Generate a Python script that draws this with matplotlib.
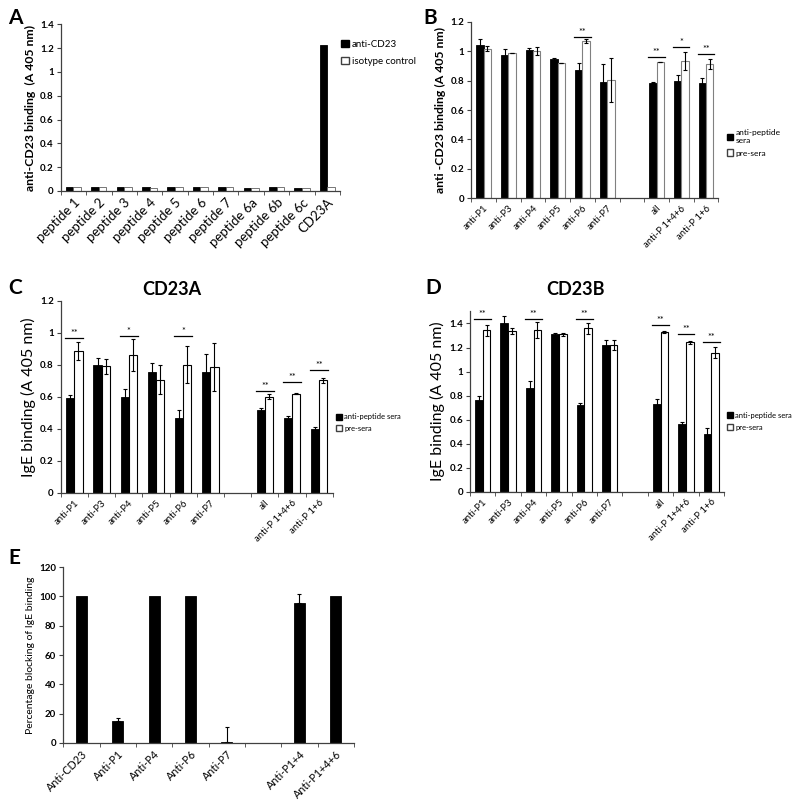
import numpy as np
import matplotlib.pyplot as plt
from matplotlib.patches import Patch

plt.rcParams['font.family'] = ['Lato', 'DejaVu Sans']

# panel A data
a_labels = ['peptide 1', 'peptide 2', 'peptide 3', 'peptide 4', 'peptide 5', 'peptide 6',
            'peptide 7', 'peptide 6a', 'peptide 6b', 'peptide 6c', 'CD23A']
a_anti = [0.03, 0.03, 0.03, 0.033, 0.03, 0.03, 0.035, 0.028, 0.03, 0.028, 1.23]
a_iso = [0.03, 0.03, 0.03, 0.028, 0.03, 0.03, 0.03, 0.028, 0.03, 0.028, 0.03]

# shared category labels for B, C, D (None = empty slot)
bcd_labels = ['anti-P1', 'anti-P3', 'anti-P4', 'anti-P5', 'anti-P6', 'anti-P7', None,
              'all', 'anti-P 1+4+6', 'anti-P 1+6']

# panel B data
b_pep = [1.045, 0.973, 1.007, 0.948, 0.873, 0.79, None, 0.786, 0.798, 0.786]
b_pep_err = [0.04, 0.04, 0.015, 0.005, 0.045, 0.12, None, 0.005, 0.04, 0.035]
b_pre = [1.018, 0.989, 1.002, 0.92, 1.07, 0.807, None, 0.927, 0.935, 0.911]
b_pre_err = [0.015, 0.0, 0.03, 0.0, 0.015, 0.15, None, 0.0, 0.06, 0.035]
b_sig = {4: ('**', 1.10), 7: ('**', 0.96), 8: ('*', 1.03), 9: ('**', 0.984)}

# panel C data
c_pep = [0.59, 0.80, 0.596, 0.758, 0.47, 0.758, None, 0.517, 0.467, 0.398]
c_pep_err = [0.02, 0.045, 0.055, 0.055, 0.045, 0.11, None, 0.01, 0.01, 0.01]
c_pre = [0.888, 0.79, 0.863, 0.708, 0.80, 0.787, None, 0.60, 0.62, 0.704]
c_pre_err = [0.055, 0.045, 0.1, 0.09, 0.115, 0.15, None, 0.015, 0.005, 0.015]
c_sig = {0: ('**', 0.965), 2: ('*', 0.98), 4: ('*', 0.98), 7: ('**', 0.637),
         8: ('**', 0.69), 9: ('**', 0.77)}

# panel D data
d_pep = [0.762, 1.403, 0.861, 1.31, 0.726, 1.221, None, 0.734, 0.561, 0.484]
d_pep_err = [0.036, 0.06, 0.065, 0.015, 0.015, 0.045, None, 0.035, 0.02, 0.045]
d_pre = [1.345, 1.34, 1.345, 1.31, 1.361, 1.221, None, 1.328, 1.243, 1.158]
d_pre_err = [0.045, 0.025, 0.065, 0.015, 0.045, 0.04, None, 0.01, 0.01, 0.045]
d_sig = {0: ('**', 1.44), 2: ('**', 1.44), 4: ('**', 1.44), 7: ('**', 1.39),
         8: ('**', 1.31), 9: ('**', 1.25)}

# panel E data
e_labels = ['Anti-CD23', 'Anti-P1', 'Anti-P4', 'Anti-P6', 'Anti-P7', None,
            'Anti-P1+4', 'Anti-P1+4+6']
e_vals = [100, 15, 100, 100, 0.5, None, 95.5, 100]
e_err = [0, 2.3, 0, 0, 10.5, None, 6, 0]


def excel_axes(ax, n, labels, fs, ymax, yticks, ylabel, ylab_fs, ylab_bold):
    ax.set_xlim(-0.5, n - 0.5)
    ax.set_ylim(0, ymax)
    ax.spines['top'].set_visible(False)
    ax.spines['right'].set_visible(False)
    for s in ('left', 'bottom'):
        ax.spines[s].set_color('#404040')
        ax.spines[s].set_linewidth(0.9)
    ax.set_xticks(np.arange(n))
    ax.set_xticklabels(['' if l is None else l for l in labels], rotation=45,
                       ha='right', rotation_mode='anchor', fontsize=fs)
    # excel style: tick marks between categories
    ax.set_xticks(np.arange(n + 1) - 0.5, minor=True)
    ax.tick_params(axis='x', which='major', length=0, pad=4)
    ax.tick_params(axis='x', which='minor', length=3, direction='out', color='#404040')
    ax.set_yticks(yticks)
    ax.set_yticklabels([('%g' % t) for t in yticks], fontsize=7, fontweight='bold')
    ax.tick_params(axis='y', length=3, direction='out', color='#404040', pad=2)
    ax.set_ylabel(ylabel, fontsize=ylab_fs, fontweight='bold' if ylab_bold else 'normal',
                  labelpad=3)


def paired(ax, pep, pep_err, pre, pre_err, sig, edge, star_fs=6.5):
    w = 0.3
    for i in range(len(pep)):
        if pep[i] is None:
            continue
        ax.bar(i - w / 2, pep[i], w, color='black', edgecolor='black', linewidth=0.6)
        ax.bar(i + w / 2, pre[i], w, color='white', edgecolor=edge, linewidth=0.8)
        ax.errorbar(i - w / 2, pep[i], yerr=pep_err[i], color='black', lw=0.8,
                    capsize=1.5, capthick=0.8)
        ax.errorbar(i + w / 2, pre[i], yerr=pre_err[i], color='black', lw=0.8,
                    capsize=1.5, capthick=0.8)
    # significance lines and stars
    for i, (s, y) in sig.items():
        ax.plot([i - 0.33, i + 0.33], [y, y], color='black', lw=0.9)
        ax.text(i, y, s, ha='center', va='bottom', fontsize=star_fs)


def sera_legend(ax, top_label, anchor, fs):
    ax.legend(handles=[Patch(facecolor='black', edgecolor='black', label=top_label),
                       Patch(facecolor='white', edgecolor='#404040', label='pre-sera')],
              loc='upper left', bbox_to_anchor=anchor, frameon=False, fontsize=fs,
              handlelength=0.8, handleheight=0.8, handletextpad=0.3, labelspacing=0.6,
              borderaxespad=0)


fig = plt.figure(figsize=(8, 8.09), dpi=100)

# A
axA = fig.add_axes([0.076, 0.764, 0.349, 0.206])
excel_axes(axA, len(a_labels), a_labels, 9.5, 1.4, [0, 0.2, 0.4, 0.6, 0.8, 1, 1.2, 1.4],
           'anti-CD23 binding  (A 405 nm)', 8.8, True)
x = np.arange(len(a_labels))
axA.bar(x - 0.15, a_anti, 0.3, color='black', edgecolor='black', linewidth=0.6)
axA.bar(x + 0.15, a_iso, 0.3, color='white', edgecolor='#606060', linewidth=0.6)
axA.legend(handles=[Patch(facecolor='black', edgecolor='black', label='anti-CD23'),
                    Patch(facecolor='white', edgecolor='#404040', label='isotype control')],
           loc='upper left', bbox_to_anchor=(0.99, 0.93), frameon=False, fontsize=7,
           handlelength=0.8, handleheight=0.8, handletextpad=0.3, labelspacing=0.8,
           borderaxespad=0)

# B
axB = fig.add_axes([0.589, 0.755, 0.309, 0.218])
excel_axes(axB, len(bcd_labels), bcd_labels, 6.8, 1.2, [0, 0.2, 0.4, 0.6, 0.8, 1, 1.2],
           'anti -CD23 binding (A 405 nm)', 8.8, True)
paired(axB, b_pep, b_pep_err, b_pre, b_pre_err, b_sig, '#808080')
sera_legend(axB, 'anti-peptide\nsera', (1.02, 0.41), 6)

# C
axC = fig.add_axes([0.076, 0.391, 0.340, 0.237])
excel_axes(axC, len(bcd_labels), bcd_labels, 6.8, 1.2, [0, 0.2, 0.4, 0.6, 0.8, 1, 1.2],
           'IgE binding (A 405 nm)', 11.5, False)
paired(axC, c_pep, c_pep_err, c_pre, c_pre_err, c_sig, 'black')
sera_legend(axC, 'anti-peptide sera', (1.0, 0.43), 5.5)
fig.text(0.178, 0.642, 'CD23A', fontsize=13, fontweight='bold', ha='left', va='center')

# D
axD = fig.add_axes([0.5875, 0.392, 0.3175, 0.223])
excel_axes(axD, len(bcd_labels), bcd_labels, 6.8, 1.5, [0, 0.2, 0.4, 0.6, 0.8, 1, 1.2, 1.4],
           'IgE binding (A 405 nm)', 11.5, False)
paired(axD, d_pep, d_pep_err, d_pre, d_pre_err, d_sig, 'black')
sera_legend(axD, 'anti-peptide sera', (1.0, 0.46), 5.5)
fig.text(0.683, 0.642, 'CD23B', fontsize=13, fontweight='bold', ha='left', va='center')

# E
axE = fig.add_axes([0.079, 0.0816, 0.3635, 0.2174])
excel_axes(axE, len(e_labels), e_labels, 7.8, 120, [0, 20, 40, 60, 80, 100, 120],
           'Percentage blocking of IgE binding', 7.5, False)
for i, v in enumerate(e_vals):
    if v is None:
        continue
    axE.bar(i, v, 0.3, color='black', edgecolor='black', linewidth=0.6)
    if e_err[i] > 0:
        axE.errorbar(i, v, yerr=[[0], [e_err[i]]], color='black', lw=0.8,
                     capsize=1.5, capthick=0.8)

# panel letters
for lab, (px, py) in {'A': (8, 18), 'B': (423, 18), 'C': (8, 288),
                      'D': (425, 288), 'E': (8, 558)}.items():
    fig.text(px / 800, 1 - py / 809, lab, fontsize=15, fontweight='bold',
             ha='left', va='center')

fig.savefig('out.png', dpi=100)
